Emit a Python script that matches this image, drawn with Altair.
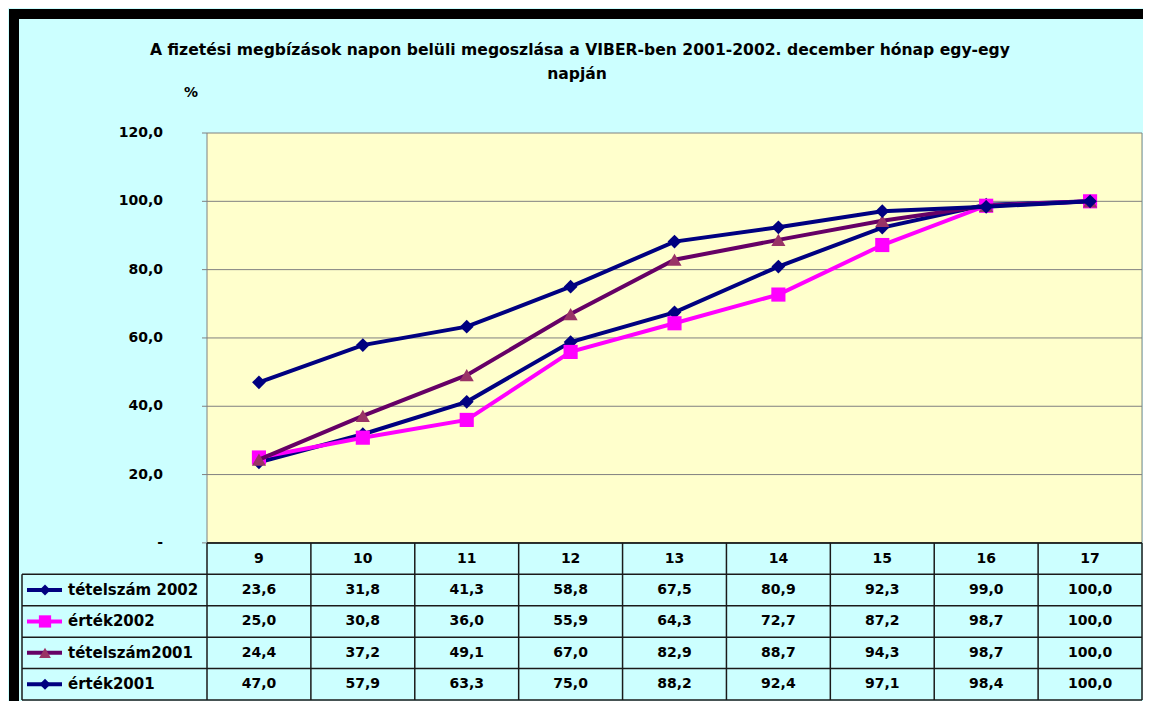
import altair as alt
import pandas as pd

# ---- data ----
hours = [9, 10, 11, 12, 13, 14, 15, 16, 17]
series_names = ["tételszám 2002", "érték2002", "tételszám2001", "érték2001"]
tetelszam_2002 = [23.6, 31.8, 41.3, 58.8, 67.5, 80.9, 92.3, 99.0, 100.0]
ertek_2002 = [25.0, 30.8, 36.0, 55.9, 64.3, 72.7, 87.2, 98.7, 100.0]
tetelszam_2001 = [24.4, 37.2, 49.1, 67.0, 82.9, 88.7, 94.3, 98.7, 100.0]
ertek_2001 = [47.0, 57.9, 63.3, 75.0, 88.2, 92.4, 97.1, 98.4, 100.0]
y_ticks = [0, 20, 40, 60, 80, 100, 120]
grid_vals = [20, 40, 60, 80, 100]

title_lines = ["A fizetési megbízások napon belüli megoszlása a VIBER-ben 2001-2002. december hónap egy-egy",
               "napján"]

line_colors = ["#000080", "#FF00FF", "#660066", "#000080"]
marker_colors = ["#000080", "#FF00FF", "#993366", "#000080"]
shapes = ["diamond", "square", "triangle-up", "diamond"]
marker_sizes = [190, 200, 200, 190]
legend_sizes = [120, 150, 140, 120]

all_values = [tetelszam_2002, ertek_2002, tetelszam_2001, ertek_2001]

FONT = "DejaVu Sans"
ROW = 9.2  # table row height in y units
N_ROWS = 5

rows = []
for i, (name, vals) in enumerate(zip(series_names, all_values)):
    for h, v in zip(hours, vals):
        rows.append({"series": name, "idx": i, "hour": h, "value": v})
df = pd.DataFrame(rows)

xscale = alt.Scale(domain=[8.5, 17.5], nice=False, zero=False)
yscale = alt.Scale(domain=[-N_ROWS * ROW, 120], nice=False, zero=False)


def X(f):
    return alt.X(f, type="quantitative", scale=xscale, axis=None, title=None)


def Y(f):
    return alt.Y(f, type="quantitative", scale=yscale, axis=None, title=None)


def YD(v):
    return alt.Y(datum=v, scale=yscale, axis=None, title=None)


one = pd.DataFrame({"a": [0]})
layers = []

# black frame (top and left edges; the rest lies outside the picture)
layers.append(
    alt.Chart(one).mark_rule(color="black", strokeWidth=10).encode(
        x=alt.value(-198), x2=alt.value(936), y=alt.value(-119)
    )
)
layers.append(
    alt.Chart(one).mark_rule(color="black", strokeWidth=10).encode(
        x=alt.value(-193), y=alt.value(-124), y2=alt.value(568)
    )
)

# plot area background
layers.append(
    alt.Chart(one).mark_rect(fill="#FFFFCC", stroke="#808080", strokeWidth=1).encode(
        x=alt.X(datum=8.5, scale=xscale, axis=None),
        x2=alt.X2(datum=17.5),
        y=YD(0),
        y2=alt.Y2(datum=120),
    )
)

# gridlines
grid_df = pd.DataFrame({"g": grid_vals})
layers.append(
    alt.Chart(grid_df).mark_rule(color="#808080", strokeWidth=1).encode(
        y=Y("g"), x=alt.value(0), x2=alt.value(935)
    )
)

# y axis: ticks and labels
tick_df = pd.DataFrame({"t": y_ticks})
layers.append(
    alt.Chart(tick_df).mark_rule(color="#808080", strokeWidth=1).encode(
        y=Y("t"), x=alt.value(-5), x2=alt.value(0)
    )
)
layers.append(
    alt.Chart(tick_df)
    .transform_calculate(lab="datum.t == 0 ? '-' : replace(format(datum.t, '.1f'), '.', ',')")
    .mark_text(font=FONT, fontWeight="bold", fontSize=14, color="black", align="right", baseline="middle")
    .encode(y=Y("t"), x=alt.value(-44), text="lab:N")
)

# data lines
for i, name in enumerate(series_names):
    sub = df[df["series"] == name]
    base = alt.Chart(sub)
    layers.append(
        base.mark_line(color=line_colors[i], strokeWidth=4).encode(x=X("hour"), y=Y("value"))
    )
    layers.append(
        base.mark_point(
            shape=shapes[i], filled=True, color=marker_colors[i], opacity=1, size=marker_sizes[i]
        ).encode(x=X("hour"), y=Y("value"))
    )

# ---- data table ----
hdf = pd.DataFrame({"b": list(range(1, N_ROWS + 1))}).assign(yb=lambda d: -ROW * d["b"])
layers.append(
    alt.Chart(hdf).mark_rule(color="#1a1a1a", strokeWidth=1.5).encode(
        y=Y("yb"), x=alt.value(-185), x2=alt.value(935)
    )
)
layers.append(
    alt.Chart(one).mark_rule(color="black", strokeWidth=1.5).encode(
        y=YD(0), x=alt.value(0), x2=alt.value(935)
    )
)
vdf = pd.DataFrame({"h": hours + [hours[-1] + 1]}).assign(xb=lambda d: d["h"] - 0.5)
layers.append(
    alt.Chart(vdf).mark_rule(color="#1a1a1a", strokeWidth=1.5).encode(
        x=X("xb"), y=YD(0), y2=alt.Y2(datum=-N_ROWS * ROW)
    )
)
layers.append(
    alt.Chart(one).mark_rule(color="#1a1a1a", strokeWidth=1.5).encode(
        x=alt.value(-185), y=YD(-ROW), y2=alt.Y2(datum=-N_ROWS * ROW)
    )
)

# header hours
hrs = pd.DataFrame({"hour": hours})
layers.append(
    alt.Chart(hrs)
    .transform_calculate(yc=f"{-ROW * 0.5}", lab="toString(datum.hour)")
    .mark_text(font=FONT, fontWeight="bold", fontSize=14, color="black", baseline="middle", align="center")
    .encode(x=X("hour"), y=Y("yc"), text="lab:N")
)

# cell values
layers.append(
    alt.Chart(df)
    .transform_calculate(
        yc=f"{-ROW} * (datum.idx + 1.5)",
        lab="replace(format(datum.value, '.1f'), '.', ',')",
    )
    .mark_text(font=FONT, fontWeight="bold", fontSize=14, color="black", baseline="middle", align="center")
    .encode(x=X("hour"), y=Y("yc"), text="lab:N")
)

# legend column
for i, name in enumerate(series_names):
    leg = pd.DataFrame({"series": [name], "idx": [i]})
    b = alt.Chart(leg).transform_calculate(yc=f"{-ROW} * (datum.idx + 1.5)")
    layers.append(
        b.mark_rule(color=line_colors[i], strokeWidth=4).encode(
            x=alt.value(-180), x2=alt.value(-145), y=Y("yc")
        )
    )
    layers.append(
        b.mark_point(shape=shapes[i], filled=True, color=marker_colors[i], opacity=1, size=legend_sizes[i]).encode(
            x=alt.value(-162), y=Y("yc")
        )
    )
    layers.append(
        b.mark_text(font=FONT, fontWeight="bold", fontSize=15, color="black", align="left", baseline="middle").encode(
            x=alt.value(-139), y=Y("yc"), text="series:N"
        )
    )

# titles
layers.append(
    alt.Chart(one).mark_text(font=FONT, fontWeight="bold", fontSize=15.6, color="black", align="center", baseline="alphabetic").encode(
        x=alt.value(373), y=alt.value(-78), text=alt.value(title_lines[0])
    )
)
layers.append(
    alt.Chart(one).mark_text(font=FONT, fontWeight="bold", fontSize=15.6, color="black", align="center", baseline="alphabetic").encode(
        x=alt.value(370), y=alt.value(-54), text=alt.value(title_lines[1])
    )
)
layers.append(
    alt.Chart(one).mark_text(font=FONT, fontWeight="bold", fontSize=14, color="black", align="center", baseline="alphabetic").encode(
        x=alt.value(-16), y=alt.value(-36), text=alt.value("%")
    )
)

chart = (
    alt.layer(*layers)
    .properties(
        width=935,
        height=567,
        background="#CCFFFF",
        autosize=alt.AutoSizeParams(type="none"),
        padding={"left": 199, "top": 125, "right": 1, "bottom": 1},
    )
    .configure_view(stroke=None)
)

chart.save("out.html", embed_options={"renderer": "svg", "actions": False})
